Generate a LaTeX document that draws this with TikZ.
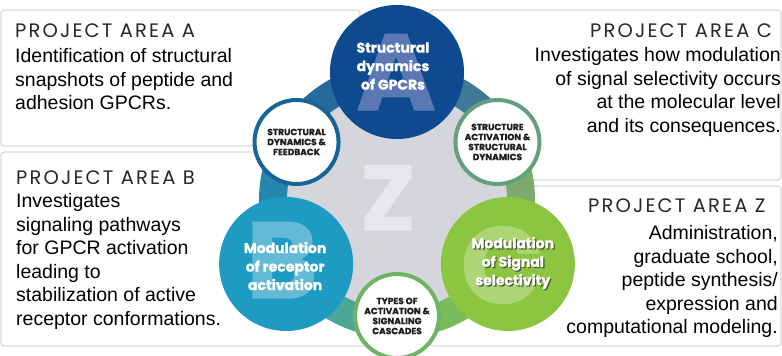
\documentclass[tikz,border=0pt]{standalone}
\usepackage{fontspec}
\setmainfont{Liberation Sans}
\newfontfamily\areafont{Poppins}[LetterSpace=11]
\newfontfamily\circfont{Poppins}[BoldFeatures={FakeBold=1.2}]
\newfontfamily\linkfont{Poppins}[BoldFeatures={FakeBold=1}]
\usepackage{tikz}
\usetikzlibrary{calc}

\definecolor{boxgray}{RGB}{218,218,218}
\definecolor{titlegray}{RGB}{40,40,40}
\definecolor{areaA}{RGB}{13,74,143}
\definecolor{areaB}{RGB}{30,155,195}
\definecolor{areaC}{RGB}{140,198,65}
\definecolor{letterA}{RGB}{92,120,180}
\definecolor{letterB}{RGB}{100,185,215}
\definecolor{letterC}{RGB}{172,214,118}
\definecolor{hubgray}{RGB}{213,214,219}
\definecolor{zgray}{RGB}{232,232,236}
\definecolor{bandAD}{RGB}{38,105,155}
\definecolor{bandDB}{RGB}{35,135,175}
\definecolor{bandBT}{RGB}{75,168,150}
\definecolor{bandTC}{RGB}{122,188,92}
\definecolor{bandCS}{RGB}{125,170,110}
\definecolor{bandSA}{RGB}{65,120,150}
\definecolor{ringD}{RGB}{25,100,150}
\definecolor{ringS}{RGB}{100,160,125}
\definecolor{ringT}{RGB}{110,180,100}

\begin{document}
\begin{tikzpicture}[
        x=1pt, y=1pt,
        areabox/.style={draw=boxgray, line width=1.2pt, rounded corners=3pt, fill=white},
        areatitle/.style={font=\areafont\fontsize{19.5}{22}\selectfont, text=titlegray, inner sep=0pt, anchor=base west},
        areatext/.style={font=\fontsize{19.5}{23.5}\selectfont, inner sep=0pt},
        bigcirc/.style={circle, minimum size=134pt, inner sep=0pt},
        bigtext/.style={align=center, text=white, inner sep=0pt, font=\circfont\bfseries\fontsize{14}{18.5}\selectfont},
        linkcirc/.style={circle, draw, line width=4pt, fill=white, minimum size=84pt, inner sep=0pt, align=center,
                         text={rgb,255:red,30;green,30;blue,30}, font=\linkfont\bfseries\fontsize{9}{10}\selectfont},
        bigletter/.style={inner sep=0pt, anchor=base, font=\circfont\bfseries\fontsize{108}{108}\selectfont}
    ]
        \useasboundingbox (0,0) rectangle (782,356);

        % --- Cajas de las areas ---
        \draw[areabox] (1,346) rectangle (360,210);
        \draw[areabox] (1,204) rectangle (380,10);
        \draw[areabox] (430,346) rectangle (781,176);
        \draw[areabox] (430,170) rectangle (781,10);

        % --- Centro y posiciones ---
        \coordinate (O) at (397,156);
        \def\rBig{128}   % radio de los circulos grandes
        \def\rLink{116}  % radio de los circulos pequenos
        \def\rBand{124}  % radio de la banda
        \coordinate (PA) at ($(O)+(90:\rBig)$);
        \coordinate (PB) at ($(O)+(210:\rBig)$);
        \coordinate (PC) at ($(O)+(330:\rBig)$);

        % --- Disco gris y banda ---
        \fill[hubgray] (O) circle (112);
        \foreach \a/\b/\c in {90/150/bandAD, 150/210/bandDB, 210/270/bandBT, 270/330/bandTC, -30/30/bandCS, 30/90/bandSA}
            \draw[line width=28pt, \c] ($(O)+(\a:\rBand)$) arc (\a:\b:\rBand);
        \node[bigletter, text=zgray, font=\circfont\bfseries\fontsize{92}{92}\selectfont] (Zlet) at (388,126) {Z};

        % --- Circulos grandes ---
        \node[bigcirc, fill=areaA] (circA) at (PA) {};
        \node[bigletter, text=letterA] (letA) at (396,246) {A};
        \node[bigtext] (txtA) at ($(circA)+(-4,6)$) {Structural\\dynamics\\of GPCRs};

        \node[bigcirc, fill=areaB] (circB) at (PB) {};
        \node[bigletter, text=letterB] (letB) at (282,58) {B};
        \node[bigtext] (txtB) at ($(circB)+(-1,-2)$) {Modulation\\of receptor\\activation};

        \node[bigcirc, fill=areaC] (circC) at (PC) {};
        \node[bigletter, text=letterC] (letC) at (502,53) {C};
        \node[bigtext, text={rgb,255:red,70;green,90;blue,50}] at ($(circC)+(6.2,-0.2)$) {Modulation\\of Signal\\selectivity};
        \node[bigtext] (txtC) at ($(circC)+(5,1)$) {Modulation\\of Signal\\selectivity};

        % --- Circulos de enlace ---
        \node[linkcirc, draw=ringD] (linkAB) at ($(O)+(150:\rLink)$) {STRUCTURAL\\DYNAMICS \&\\FEEDBACK};
        \node[linkcirc, draw=ringS] (linkAC) at ($(O)+(30:\rLink)$) {STRUCTURE\\ACTIVATION \&\\STRUCTURAL\\DYNAMICS};
        \node[linkcirc, draw=ringT] (linkBC) at ($(O)+(270:\rLink)$) {TYPES OF\\ACTIVATION \&\\SIGNALING\\CASCADES};

        % --- Textos de las areas ---
        \node[areatitle] (titleA) at (15,318) {PROJECT AREA A};
        \node[areatext, anchor=base west, align=left] (bodyA) at (15,246)
            {Identification of structural\\snapshots of peptide and\\adhesion GPCRs.};

        \node[areatitle] (titleB) at (16,171) {PROJECT AREA B};
        \node[areatext, anchor=base west, align=left] (bodyB) at (16,30.5)
            {Investigates\\signaling pathways\\for GPCR activation\\leading to\\stabilization of active\\receptor conformations.};

        \node[areatitle] (titleC) at (590,318) {PROJECT AREA C};
        \node[areatext, anchor=base east, align=right] (bodyC) at (781,223.5)
            {Investigates how modulation\\of signal selectivity occurs\\at the molecular level\\and its consequences.};

        \node[areatitle] (titleZ) at (588,143) {PROJECT AREA Z};
        \node[areatext, anchor=base east, align=right] (bodyZ) at (778,22)
            {Administration,\\graduate school,\\peptide synthesis/\\expression and\\computational modeling.};
    \end{tikzpicture}
\end{document}
